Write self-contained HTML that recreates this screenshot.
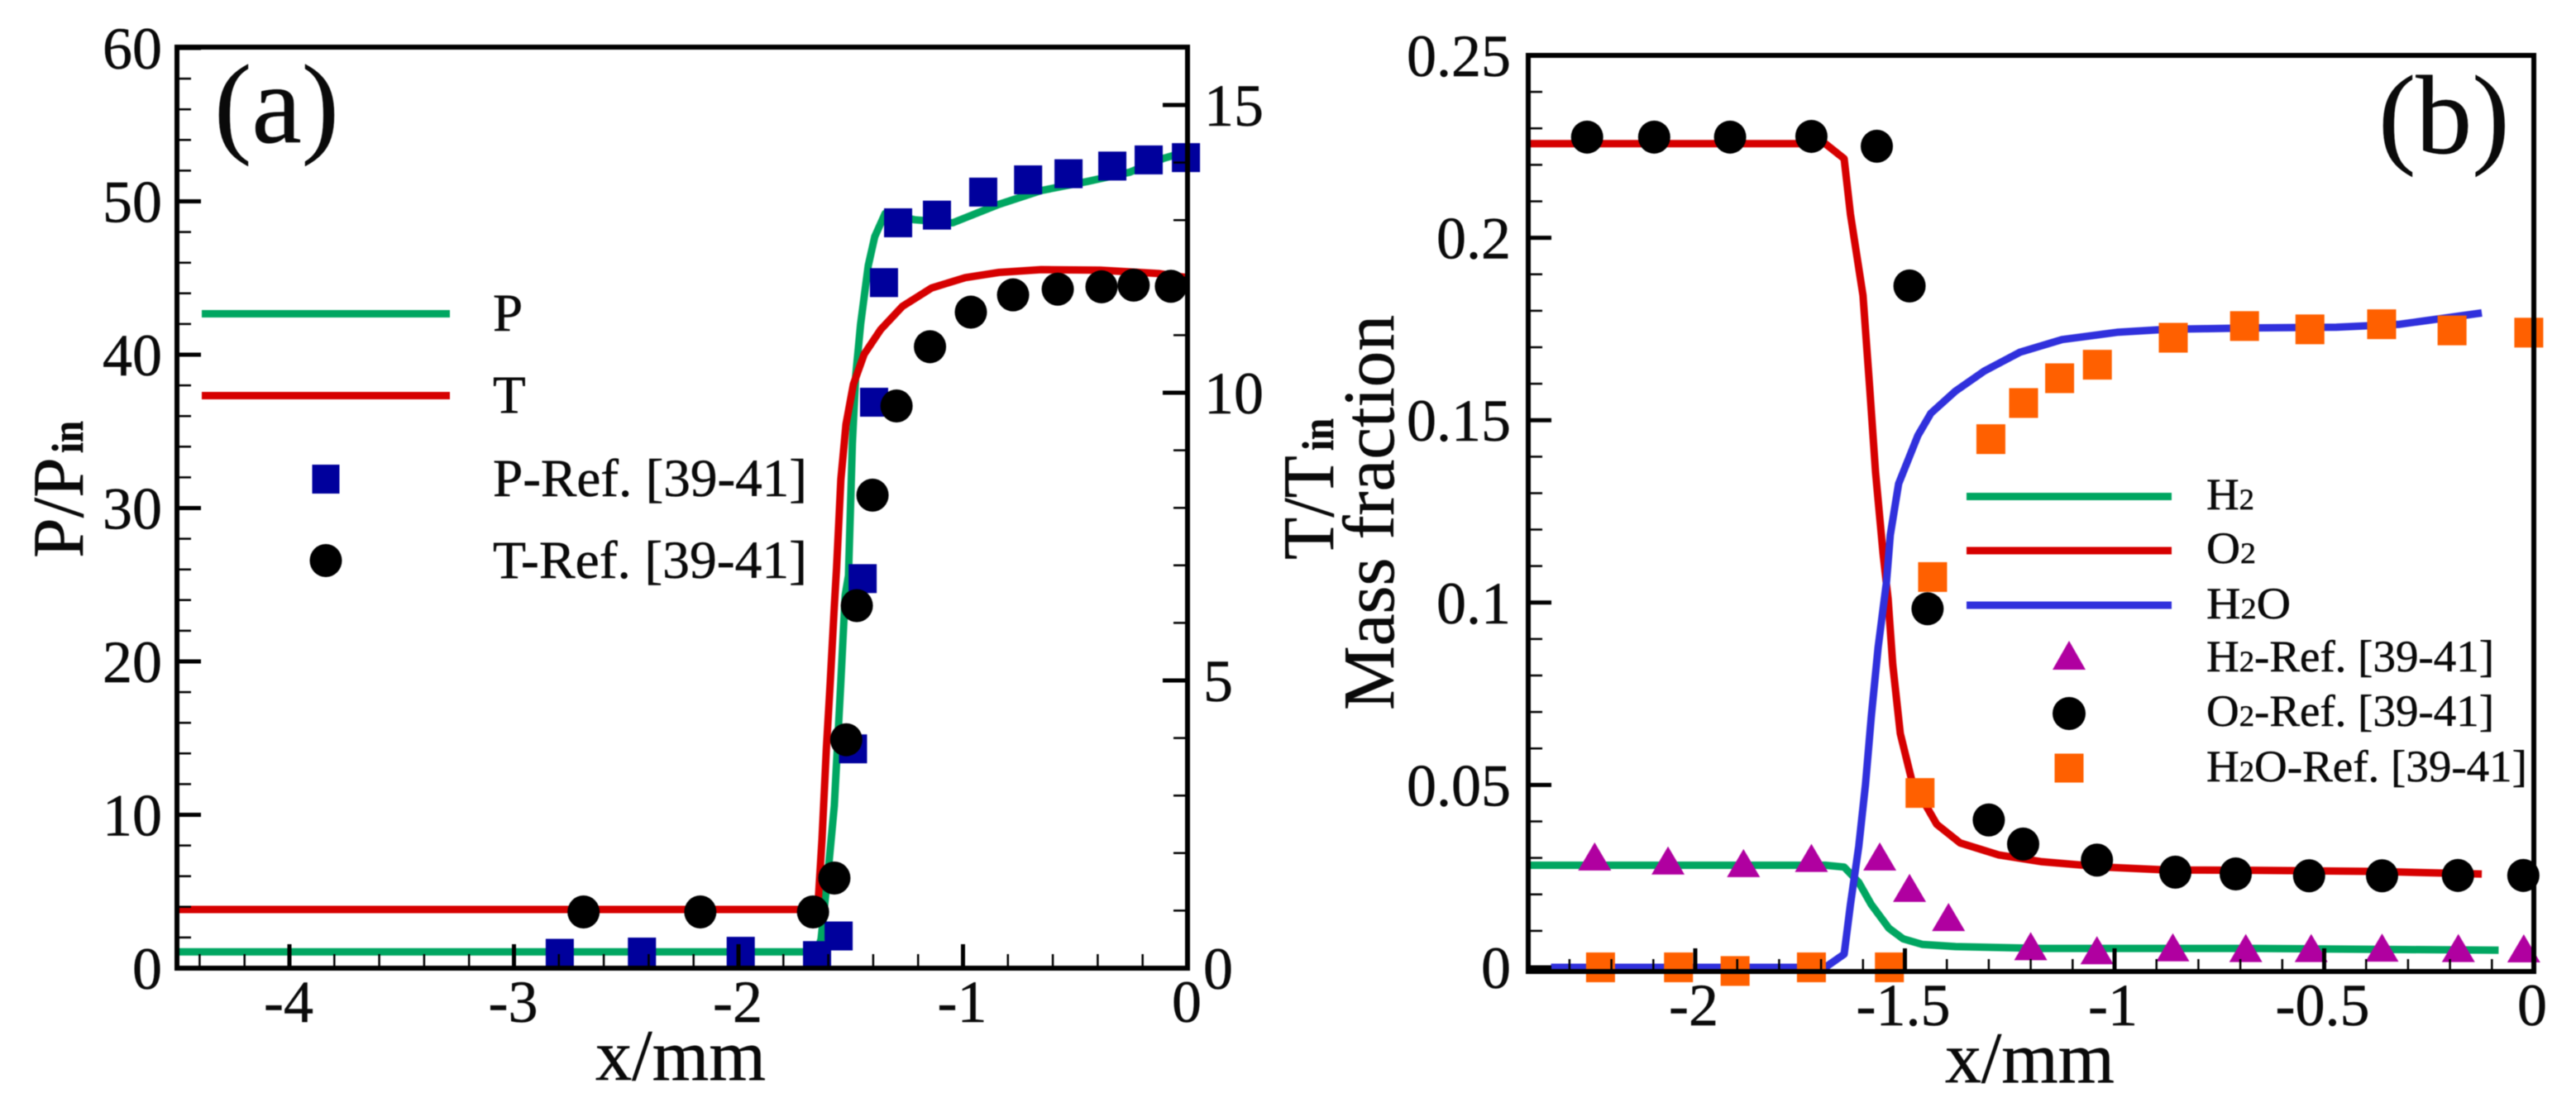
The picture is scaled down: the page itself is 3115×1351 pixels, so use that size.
<!DOCTYPE html>
<html lang="en">
<head>
<meta charset="utf-8">
<title>Pressure, temperature and mass fraction profiles</title>
<style>
html,body{margin:0;padding:0;background:#fff;width:3115px;height:1351px;overflow:hidden}
svg{display:block;font-family:"Liberation Serif",serif;fill:#000;filter:blur(0.6px)}
text{fill:#0a0a0a;stroke:#0a0a0a;stroke-width:0.5px}
</style>
</head>
<body>
<svg id="figure" xmlns="http://www.w3.org/2000/svg" width="3115" height="1351" viewBox="0 0 3115 1351">
  <rect x="0" y="0" width="3115" height="1351" fill="#fff"/>
  <g id="marks-a"></g>
  <g id="marks-b"></g>
  <g id="axes-a"></g>
  <g id="axes-b"></g>

  <text x="259" y="172" font-size="136">(a)</text>
  <text x="2876" y="185" font-size="136">(b)</text>

  <text x="720" y="1306" font-size="88" textLength="206" lengthAdjust="spacingAndGlyphs">x/mm</text>
  <text x="2352" y="1309" font-size="88" textLength="205" lengthAdjust="spacingAndGlyphs">x/mm</text>
  <g transform="translate(100,675) rotate(-90)">
    <text x="0" y="0" font-size="88" textLength="122" lengthAdjust="spacingAndGlyphs">P/P</text>
    <text x="127" y="0" font-size="54" font-weight="bold" textLength="39" lengthAdjust="spacingAndGlyphs">in</text>
  </g>
  <g transform="translate(1612,677) rotate(-90)">
    <text x="0" y="0" font-size="88" textLength="126" lengthAdjust="spacingAndGlyphs">T/T</text>
    <text x="132" y="0" font-size="54" font-weight="bold" textLength="39" lengthAdjust="spacingAndGlyphs">in</text>
  </g>
  <text transform="translate(1685,859) rotate(-90)" x="0" y="0" font-size="88" textLength="478" lengthAdjust="spacingAndGlyphs">Mass fraction</text>

  <g>
    <rect x="244" y="375" width="300" height="9" fill="#00a661"/>
    <rect x="244" y="474" width="300" height="9" fill="#d60000"/>
    <rect x="377.5" y="562" width="33" height="35" fill="#00009c"/>
    <ellipse cx="394" cy="678" rx="19.5" ry="20" fill="#000"/>
    <text x="596" y="400" font-size="65">P</text>
    <text x="596" y="499" font-size="65">T</text>
    <text x="596" y="600" font-size="65" textLength="380" lengthAdjust="spacingAndGlyphs">P-Ref. [39-41]</text>
    <text x="596" y="699" font-size="65" textLength="380" lengthAdjust="spacingAndGlyphs">T-Ref. [39-41]</text>
  </g>

  <g>
    <rect x="2378" y="596" width="248" height="9" fill="#00a661"/>
    <rect x="2378" y="661.500" width="248" height="9" fill="#d60000"/>
    <rect x="2378" y="727.500" width="248" height="9" fill="#3030dc"/>
    <polygon points="2502,775 2522,810 2482,810" fill="#b000a0"/>
    <ellipse cx="2502" cy="863" rx="20" ry="20" fill="#000"/>
    <rect x="2484.500" y="911.500" width="35" height="35" fill="#ff6000"/>
    <text x="2668" y="616" font-size="54" textLength="58" lengthAdjust="spacingAndGlyphs">H<tspan font-size="36">2</tspan></text>
    <text x="2668" y="681" font-size="54" textLength="60" lengthAdjust="spacingAndGlyphs">O<tspan font-size="36">2</tspan></text>
    <text x="2668" y="748" font-size="54" textLength="102" lengthAdjust="spacingAndGlyphs">H<tspan font-size="36">2</tspan>O</text>
    <text x="2668" y="812" font-size="54" textLength="348" lengthAdjust="spacingAndGlyphs">H<tspan font-size="36">2</tspan>-Ref. [39-41]</text>
    <text x="2668" y="878" font-size="54" textLength="348" lengthAdjust="spacingAndGlyphs">O<tspan font-size="36">2</tspan>-Ref. [39-41]</text>
    <text x="2668" y="945" font-size="54" textLength="388" lengthAdjust="spacingAndGlyphs">H<tspan font-size="36">2</tspan>O-Ref. [39-41]</text>
  </g>
</svg>

<script>
// Panel (a) data
const pLineX = [-4.5,-1.651,-1.632,-1.6,-1.573,-1.544,-1.525,-1.51,-1.493,-1.478,-1.456,-1.422,-1.393,-1.347,-1.215,-1.046,-0.84,-0.652,-0.445,-0.258,-0.107,-0.012];
const pLineY = [1.07,1.07,1.9,6.4,10.6,18.7,24.3,25.6,34.2,38.6,42,45.8,47.7,49.2,48.8,48.6,49.8,50.7,51.3,51.9,52.8,53.2];
const tLineX = [-4.5,-1.647,-1.628,-1.609,-1.591,-1.573,-1.563,-1.544,-1.521,-1.488,-1.44,-1.366,-1.27,-1.14,-0.99,-0.84,-0.652,-0.39,-0.125,0];
const tLineY = [1.02,1.02,2.24,3.79,4.98,6.29,6.95,8.49,9.45,10.15,10.67,11.1,11.5,11.82,12,12.09,12.14,12.13,12.07,12];
const pRefX = [-2.796,-2.43,-1.99,-1.65,-1.554,-1.49,-1.447,-1.396,-1.352,-1.289,-1.116,-0.91,-0.71,-0.53,-0.335,-0.173,-0.007];
const pRefY = [0.97,1.05,1.1,0.82,2.1,14.3,25.4,36.9,44.7,48.6,49.1,50.6,51.4,51.8,52.3,52.7,52.85];
const tRefX = [-2.69,-2.17,-1.668,-1.573,-1.52,-1.473,-1.403,-1.296,-1.147,-0.965,-0.777,-0.578,-0.383,-0.24,-0.074];
const tRefY = [0.977,0.977,0.977,1.566,3.97,6.3,8.22,9.77,10.8,11.4,11.7,11.8,11.84,11.87,11.85];
const xTicksA = [-4,-3,-2,-1,0];
const pTicks = [0,10,20,30,40,50,60];
const tTicks = [0,5,10,15];

// Panel (b) data
const o2LineX = [-2.4,-1.69,-1.645,-1.63,-1.6,-1.584,-1.57,-1.552,-1.54,-1.529,-1.511,-1.483,-1.424,-1.368,-1.276,-1.176,-1.024,-0.874,-0.673,-0.371,-0.124];
const o2LineY = [0.2258,0.2258,0.2217,0.2065,0.1842,0.1589,0.1357,0.1134,0.1009,0.083,0.0641,0.051,0.0392,0.0341,0.0308,0.029,0.0275,0.0267,0.0266,0.0263,0.0256];
const h2oLineX = [-2.344,-1.69,-1.645,-1.63,-1.61,-1.594,-1.58,-1.564,-1.544,-1.535,-1.515,-1.469,-1.438,-1.379,-1.31,-1.226,-1.125,-0.994,-0.874,-0.673,-0.471,-0.32,-0.124];
const h2oLineY = [0,0,0.0036,0.0172,0.0332,0.0501,0.0689,0.0877,0.1056,0.1185,0.1326,0.1458,0.1519,0.158,0.1635,0.1686,0.1721,0.1741,0.1749,0.1753,0.1755,0.1763,0.1794];
const h2LineX = [-2.4,-1.69,-1.645,-1.61,-1.58,-1.538,-1.504,-1.459,-1.379,-1.176,-0.673,-0.084];
const h2LineY = [0.028,0.028,0.0275,0.0233,0.0172,0.0107,0.0078,0.0063,0.0057,0.0052,0.0052,0.0047];
const o2RefX = [-2.258,-2.098,-1.917,-1.723,-1.567,-1.489,-1.446,-1.3,-1.218,-1.042,-0.855,-0.711,-0.536,-0.362,-0.181,-0.025];
const o2RefY = [0.2276,0.2276,0.2276,0.2278,0.2251,0.1868,0.0983,0.0404,0.0338,0.0294,0.0261,0.0256,0.0251,0.0251,0.0252,0.0252];
const h2oRefX = [-2.226,-2.04,-1.905,-1.723,-1.537,-1.464,-1.434,-1.295,-1.217,-1.131,-1.041,-0.86,-0.69,-0.534,-0.363,-0.195,-0.012];
const h2oRefY = [0,0,-0.001,0,0,0.0478,0.107,0.1448,0.1547,0.1615,0.1652,0.1726,0.1758,0.1749,0.1763,0.1746,0.174];
const h2RefX = [-2.24,-2.065,-1.885,-1.723,-1.56,-1.489,-1.396,-1.2,-1.042,-0.861,-0.687,-0.531,-0.362,-0.18,-0.024];
const h2RefY = [0.0304,0.0293,0.0286,0.03,0.0304,0.0218,0.0138,0.0058,0.0047,0.0055,0.0053,0.0053,0.0054,0.0053,0.0052];
const xTicksB = ["-2","-1.5","-1","-0.5","0"];
const massTicks = ["0","0.05","0.1","0.15","0.2","0.25"];

// Axis functions
const xA = v => 1436 + 271.5 * v;
const yP = v => 1171 - 18.55 * v;
const yT = v => 1171 - 69.6 * v;
const xB = v => 3064 + 507 * v;
const yM = v => 1170 - 4412 * v;

const NS = 'http://www.w3.org/2000/svg';
const marksA = document.getElementById('marks-a');
const marksB = document.getElementById('marks-b');
const axesA = document.getElementById('axes-a');
const axesB = document.getElementById('axes-b');

function drawLine(parent, name, xs, ys, fx, fy, color, width) {
  const el = document.createElementNS(NS, 'polyline');
  
  
  el.setAttribute('points', xs.map((x, i) => fx(x).toFixed(1) + ',' + fy(ys[i]).toFixed(1)).join(' '));
  el.setAttribute('fill', 'none');
  el.setAttribute('stroke', color);
  el.setAttribute('stroke-width', width);
  el.setAttribute('stroke-linejoin', 'round');
  parent.appendChild(el);
}
function drawSquares(parent, name, xs, ys, fx, fy, color, w, h) {
  xs.forEach((x, i) => {
    const el = document.createElementNS(NS, 'rect');
    
    
    el.setAttribute('x', fx(x) - w / 2);
    el.setAttribute('y', fy(ys[i]) - h / 2);
    el.setAttribute('width', w);
    el.setAttribute('height', h);
    el.setAttribute('fill', color);
    parent.appendChild(el);
  });
}
function drawCircles(parent, name, xs, ys, fx, fy, rx, ry) {
  xs.forEach((x, i) => {
    const el = document.createElementNS(NS, 'ellipse');
    
    
    el.setAttribute('cx', fx(x));
    el.setAttribute('cy', fy(ys[i]));
    el.setAttribute('rx', rx);
    el.setAttribute('ry', ry);
    el.setAttribute('fill', '#000');
    parent.appendChild(el);
  });
}
function drawTriangles(parent, name, xs, ys, fx, fy, color, w, h) {
  xs.forEach((x, i) => {
    const px = fx(x), py = fy(ys[i]);
    const el = document.createElementNS(NS, 'polygon');
    
    
    el.setAttribute('points', px + ',' + (py - h / 2) + ' ' + (px + w / 2) + ',' + (py + h / 2) + ' ' + (px - w / 2) + ',' + (py + h / 2));
    el.setAttribute('fill', color);
    parent.appendChild(el);
  });
}
function tick(parent, name, x1, y1, x2, y2, width) {
  const el = document.createElementNS(NS, 'line');
  
  
  el.setAttribute('x1', x1);
  el.setAttribute('y1', y1);
  el.setAttribute('x2', x2);
  el.setAttribute('y2', y2);
  el.setAttribute('stroke', '#000');
  el.setAttribute('stroke-width', width);
  parent.appendChild(el);
}
function label(parent, name, str, x, y, anchor) {
  const el = document.createElementNS(NS, 'text');
  
  
  el.setAttribute('x', x);
  el.setAttribute('y', y);
  el.setAttribute('font-size', '72');
  el.setAttribute('text-anchor', anchor);
  el.textContent = str;
  parent.appendChild(el);
}

// Panel (a) marks
drawLine(marksA, 'pressure-line', pLineX, pLineY, xA, yP, '#00a661', 9);
drawLine(marksA, 'temperature-line', tLineX, tLineY, xA, yT, '#d60000', 9);
drawSquares(marksA, 'pressure-ref-point', pRefX, pRefY, xA, yP, '#00009c', 34, 35);
drawCircles(marksA, 'temperature-ref-point', tRefX, tRefY, xA, yT, 19.5, 20);

// Panel (b) marks
drawLine(marksB, 'h2-line', h2LineX, h2LineY, xB, yM, '#00a661', 9);
drawLine(marksB, 'o2-line', o2LineX, o2LineY, xB, yM, '#d60000', 9);
drawLine(marksB, 'h2o-line', h2oLineX, h2oLineY, xB, yM, '#3030dc', 9);
drawTriangles(marksB, 'h2-ref-point', h2RefX, h2RefY, xB, yM, '#b000a0', 40, 34);
drawCircles(marksB, 'o2-ref-point', o2RefX, o2RefY, xB, yM, 19.5, 20);
drawSquares(marksB, 'h2o-ref-point', h2oRefX, h2oRefY, xB, yM, '#ff6000', 35, 36);

// Panel (a) axes
for (let v = 0; v <= 60; v += 2) {
  if (v % 10 !== 0) tick(axesA, 'p-minor-tick', 214, yP(v), 231, yP(v), 2.5);
}
pTicks.forEach(v => {
  tick(axesA, 'p-major-tick', 214, yP(v), 243, yP(v), 5);
  label(axesA, 'p-tick-label', String(v), 196, yP(v) + 25, 'end');
});
for (let v = 1; v < 16; v += 1) {
  if (v % 5 !== 0) tick(axesA, 't-minor-tick', 1419, yT(v), 1436, yT(v), 2.5);
}
tTicks.forEach(v => {
  tick(axesA, 't-major-tick', 1406, yT(v), 1436, yT(v), 5);
  label(axesA, 't-tick-label', String(v), v < 10 ? 1455 : 1456, yT(v) + 25, 'start');
});
for (let i = -22; i < 0; i += 1) {
  if (i % 5 !== 0) tick(axesA, 'x-minor-tick-a', xA(i * 0.2), 1154, xA(i * 0.2), 1171, 2.5);
}
xTicksA.forEach(v => {
  tick(axesA, 'x-major-tick-a', xA(v), 1142, xA(v), 1171, 5);
  label(axesA, 'x-tick-label-a', String(v), xA(v) - 1, 1236, 'middle');
});
const frameA = document.createElementNS(NS, 'rect');


frameA.setAttribute('x', '214');
frameA.setAttribute('y', '57');
frameA.setAttribute('width', '1222');
frameA.setAttribute('height', '1114');
frameA.setAttribute('fill', 'none');
frameA.setAttribute('stroke', '#000');
frameA.setAttribute('stroke-width', '6');
axesA.appendChild(frameA);

// Panel (b) axes
for (let i = 1; i < 25; i += 1) {
  if (i % 5 !== 0) tick(axesB, 'mass-minor-tick', 1848, yM(i * 0.01), 1865, yM(i * 0.01), 2.5);
}
massTicks.forEach(s => {
  tick(axesB, 'mass-major-tick', 1848, yM(parseFloat(s)), 1876, yM(parseFloat(s)), 5);
  label(axesB, 'mass-tick-label', s, 1827, yM(parseFloat(s)) + 25, 'end');
});
for (let i = -23; i < 0; i += 1) {
  if (i % 5 !== 0) tick(axesB, 'x-minor-tick-b', xB(i * 0.1), 1160, xB(i * 0.1), 1175, 2.5);
}
xTicksB.forEach(s => {
  tick(axesB, 'x-major-tick-b', xB(parseFloat(s)), 1147, xB(parseFloat(s)), 1175, 5);
  label(axesB, 'x-tick-label-b', s, xB(parseFloat(s)) - 2, 1240, 'middle');
});
const frameB = document.createElementNS(NS, 'rect');


frameB.setAttribute('x', '1848');
frameB.setAttribute('y', '67');
frameB.setAttribute('width', '1216');
frameB.setAttribute('height', '1108');
frameB.setAttribute('fill', 'none');
frameB.setAttribute('stroke', '#000');
frameB.setAttribute('stroke-width', '6');
axesB.appendChild(frameB);
</script>
</body>
</html>
